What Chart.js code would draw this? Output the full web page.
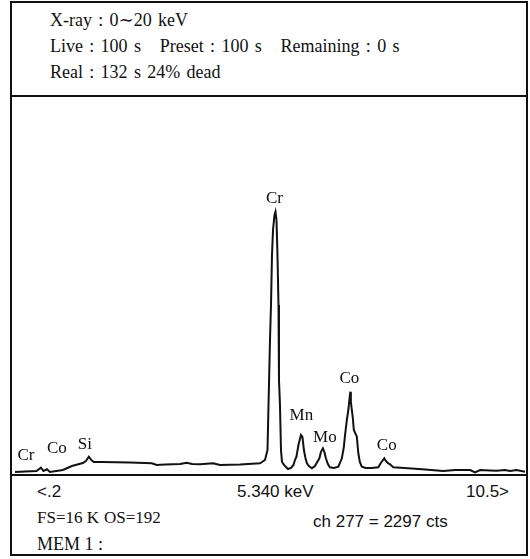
<!DOCTYPE html>
<html>
<head>
<meta charset="utf-8">
<script src="https://cdn.jsdelivr.net/npm/chart.js@4.4.0/dist/chart.umd.min.js"></script>
<style>
  html, body { margin: 0; padding: 0; background: #fff; }
  body { width: 530px; height: 559px; position: relative; overflow: hidden; }
  #frame { position: absolute; left: 10px; top: 1px; width: 518px; height: 555px; border: 2px solid #111; box-sizing: border-box; }
  .rule { position: absolute; left: 10px; width: 518px; height: 2px; background: #111; }
  #plot { position: absolute; left: 12px; top: 97px; width: 514px; height: 377px; }
  .t { position: absolute; white-space: pre; color: #111; line-height: 1; }
  .serif { font-family: "Liberation Serif", "DejaVu Serif", serif; font-size: 18px; }
  .head { word-spacing: 1.8px; }
  .sans { font-family: "Liberation Sans", Arial, sans-serif; font-size: 17px; }
  .peak { position: absolute; white-space: pre; color: #111; line-height: 1;
          font-family: "Liberation Serif", serif; font-size: 17px; transform: translate(-50%, -50%); }
</style>
</head>
<body>
<div id="frame"></div>
<div class="rule" style="top:95px"></div>
<div class="rule" style="top:474px"></div>

<div class="t serif head" style="left:50px; top:11px">X-ray : 0∼20 keV</div>
<div class="t serif head" style="left:50px; top:37px">Live : 100 s   Preset : 100 s   Remaining : 0 s</div>
<div class="t serif head" style="left:50px; top:63px">Real : 132 s 24% dead</div>

<div class="t sans" style="left:37px; top:483px">&lt;.2</div>
<div class="t sans" style="left:237px; top:483px">5.340 keV</div>
<div class="t sans" style="left:466px; top:483px">10.5&gt;</div>
<div class="t serif" style="left:37px; top:509px; font-size:17px">FS=16 K</div>
<div class="t serif" style="left:104px; top:509px; font-size:17px">OS=192</div>
<div class="t sans" style="left:313px; top:513px">ch 277 = 2297 cts</div>
<div class="t serif" style="left:37px; top:535px">MEM 1 :</div>

<div id="plot"><canvas id="spectrum" width="514" height="377"></canvas></div>

<script>
// EDS spectrum, energy axis in keV, counts on a 16K full scale
const energies = [0.26, 0.46, 0.69, 0.78, 0.83, 0.90, 0.96, 1.22, 1.40, 1.62, 1.68, 1.74, 1.79, 1.84,
    2.00, 2.56, 3.00, 3.10, 3.27, 3.57, 3.70, 3.81, 3.97, 4.23, 4.37, 4.77, 5.17, 5.27, 5.32, 5.34,
    5.37, 5.39, 5.41, 5.43, 5.46, 5.48, 5.50, 5.52, 5.54, 5.55, 5.57, 5.59, 5.61, 5.65, 5.73, 5.79,
    5.84, 5.87, 5.90, 5.94, 5.99, 6.02, 6.05, 6.08, 6.11, 6.15, 6.21, 6.27, 6.36, 6.39, 6.43, 6.46,
    6.49, 6.53, 6.57, 6.65, 6.74, 6.81, 6.85, 6.87, 6.91, 6.94, 6.96, 6.98, 6.99, 7.01, 7.03, 7.05,
    7.11, 7.14, 7.17, 7.21, 7.29, 7.41, 7.54, 7.59, 7.66, 7.69, 7.74, 7.77, 7.84, 8.14, 8.48, 8.84,
    9.08, 9.38, 9.48, 9.58, 9.78, 9.91, 10.08, 10.18, 10.31, 10.48];
const counts = [85, 106, 127, 267, 127, 200, 85, 170, 340, 467, 552, 734, 594, 509,
    509, 488, 454, 382, 403, 424, 480, 424, 412, 454, 382, 403, 454, 594, 1019, 2928,
    5687, 7172, 9294, 10355, 10992, 11132, 10780, 9294, 7172, 3989, 2928, 1019, 522, 382, 212, 255,
    382, 594, 734, 1231, 1655, 1570, 1019, 679, 454, 340, 242, 340, 666, 934, 1091, 934,
    666, 424, 284, 255, 310, 666, 1146, 1583, 2292, 2716, 3141, 3493, 3056, 2716, 2377, 1867,
    1583, 879, 509, 310, 255, 255, 284, 467, 666, 552, 454, 424, 284, 242, 191, 127,
    170, 170, 72, 170, 149, 140, 170, 127, 170, 98];

// element labels: name, energy (keV), counts where the label sits
const peakNames = ['Cr', 'Co', 'Si', 'Cr', 'Mn', 'Mo', 'Co', 'Co'];
const peakEnergies = [0.48, 1.10, 1.66, 5.46, 6.00, 6.47, 6.96, 7.71];
const peakCounts = [849, 1159, 1316, 11756, 2546, 1613, 4117, 1273];

const energyMin = 0.2;
const energyMax = 10.5;
const fullScale = 16000;

const ctx = document.getElementById('spectrum').getContext('2d');
const chart = new Chart(ctx, {
    type: 'line',
    data: {
        datasets: [{
            data: energies.map((e, i) => ({ x: e, y: counts[i] })),
            borderColor: '#111',
            borderWidth: 2,
            pointRadius: 0,
            tension: 0,
            fill: false
        }]
    },
    options: {
        responsive: false,
        animation: false,
        layout: { padding: 0 },
        plugins: { legend: { display: false }, tooltip: { enabled: false } },
        scales: {
            x: { type: 'linear', min: energyMin, max: energyMax, display: false },
            y: { min: 0, max: fullScale, display: false }
        }
    }
});

// put the element names over the peaks
const plot = document.getElementById('plot');
peakNames.forEach((name, i) => {
    const el = document.createElement('div');
    el.className = 'peak';
    el.textContent = name;
    el.style.left = chart.scales.x.getPixelForValue(peakEnergies[i]) + 'px';
    el.style.top = chart.scales.y.getPixelForValue(peakCounts[i]) + 'px';
    plot.appendChild(el);
});
</script>
</body>
</html>
